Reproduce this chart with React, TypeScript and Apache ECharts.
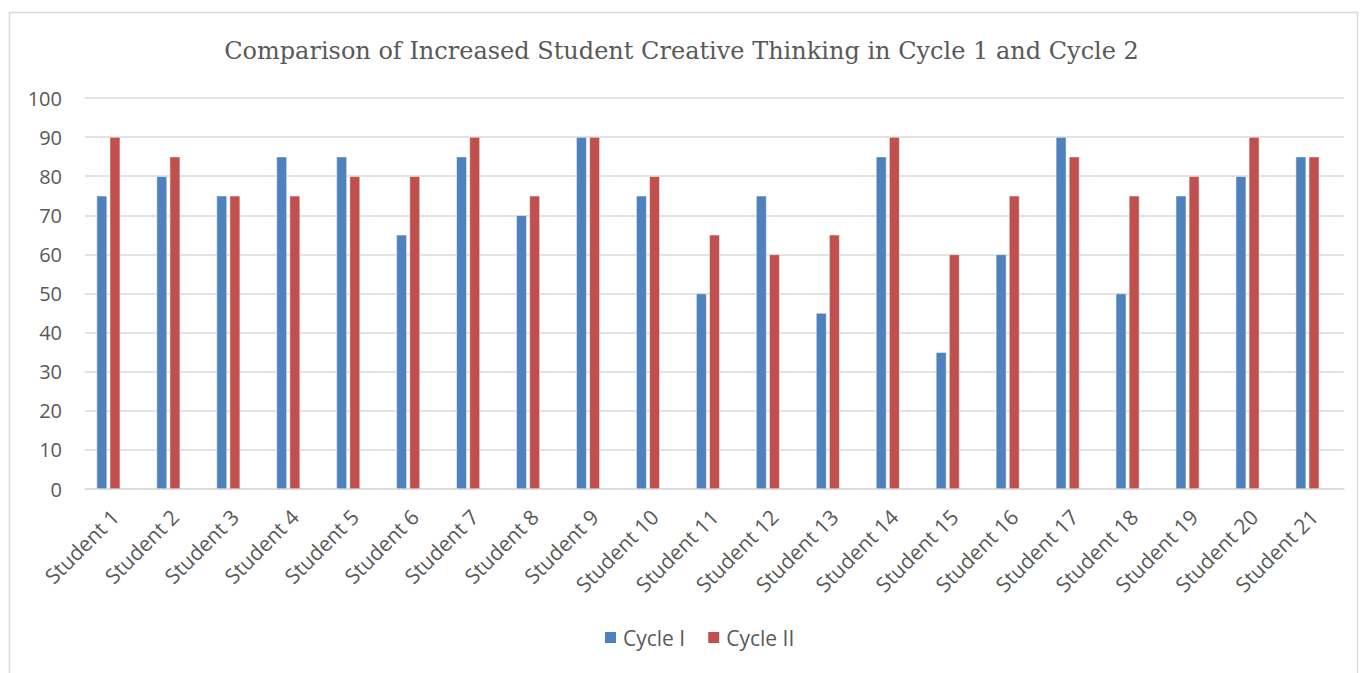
import React, { useEffect, useRef } from "react";
import * as echarts from "echarts";

const categories = Array.from({ length: 21 }, (_, i) => `Student ${i + 1}`);
const cycle1 = [75, 80, 75, 85, 85, 65, 85, 70, 90, 75, 50, 75, 45, 85, 35, 60, 90, 50, 75, 80, 85];
const cycle2 = [90, 85, 75, 75, 80, 80, 90, 75, 90, 80, 65, 60, 65, 90, 60, 75, 85, 75, 80, 90, 85];
const emptySeries: (number | null)[] = categories.map(() => null);
const seriesNames = ["Cycle I", "Cycle II"];
const title = "Comparison of Increased Student Creative Thinking in Cycle 1 and Cycle 2";

export default function App() {
  const ref = useRef<HTMLDivElement>(null);
  useEffect(() => {
    if (!ref.current) return;
    const chart = echarts.init(ref.current, null, { renderer: "svg" });
    chart.setOption({
      animation: false,
      backgroundColor: "#ffffff",
      title: {
        text: title,
        left: "center",
        top: 34,
        textStyle: { fontFamily: "DejaVu Serif", fontSize: 24, fontWeight: "normal", color: "#595959" },
      },
      graphic: [
        {
          type: "rect",
          shape: { x: 9.5, y: 12.5, width: 1348, height: 700 },
          style: { fill: "none", stroke: "#d9d9d9", lineWidth: 1.5 },
          silent: true,
          z: -1,
        },
      ],
      legend: {
        bottom: 20,
        left: 598,
        itemWidth: 13,
        itemHeight: 13,
        itemGap: 21,
        icon: "rect",
        textStyle: { fontFamily: "Open Sans", fontSize: 21, color: "#595959", padding: [0, 0, 0, 1] },
        data: seriesNames,
      },
      grid: { left: 85, right: 19, top: 98, bottom: 184, containLabel: false },
      xAxis: {
        type: "category",
        data: categories,
        axisLine: { lineStyle: { color: "#d9d9d9", width: 1.5 } },
        axisTick: { show: false },
        axisLabel: {
          rotate: 45,
          interval: 0,
          margin: 24,
          fontFamily: "Open Sans",
          fontSize: 21,
          color: "#595959",
        },
      },
      yAxis: {
        type: "value",
        min: 0,
        max: 100,
        interval: 10,
        axisLine: { show: false },
        axisTick: { show: false },
        axisLabel: { fontFamily: "Open Sans", fontSize: 20, color: "#595959", margin: 23 },
        splitLine: { lineStyle: { color: "#d9d9d9", width: 1.5 } },
      },
      series: [
        {
          name: seriesNames[0],
          type: "bar",
          data: cycle1,
          barWidth: 10.5,
          barGap: "25%",
          itemStyle: { color: "#4F81BD", borderColor: "#ffffff", borderWidth: 0.5 },
        },
        {
          name: seriesNames[1],
          type: "bar",
          data: cycle2,
          barWidth: 10.5,
          barGap: "25%",
          itemStyle: { color: "#C0504D", borderColor: "#ffffff", borderWidth: 0.5 },
        },
        {
          name: "hidden",
          type: "bar",
          data: emptySeries,
          barWidth: 10.5,
          barGap: "25%",
          itemStyle: { color: "transparent" },
          silent: true,
        },
      ],
    });
    return () => chart.dispose();
  }, []);
  return (
    <div
      ref={ref}
      style={{ position: "fixed", left: 0, top: 0, width: 1363, height: 673 }}
    />
  );
}
